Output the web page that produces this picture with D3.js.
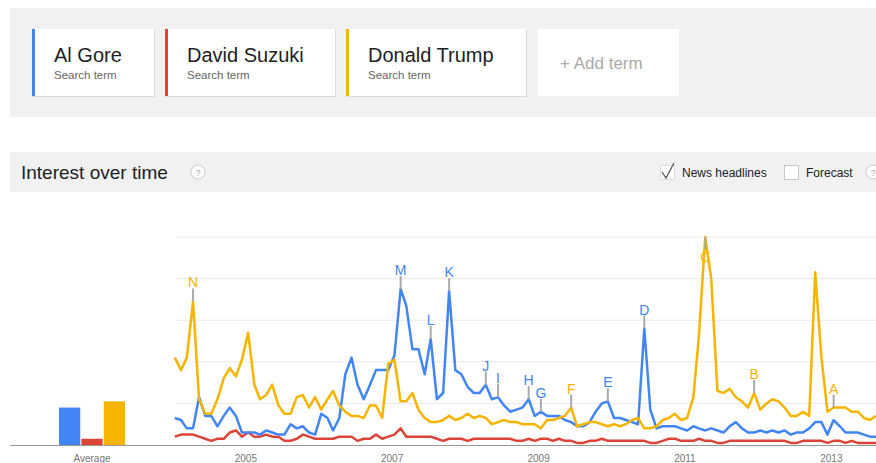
<!DOCTYPE html>
<html>
<head>
<meta charset="utf-8">
<script src="https://cdn.jsdelivr.net/npm/d3@7"></script>
<style>
  body { margin: 0; background: #fff; font-family: Arial, "Liberation Sans", sans-serif; }
  svg { display: block; }
</style>
</head>
<body>
<svg width="876" height="463"></svg>
<script>
// ---- data (monthly, Jan 2004 .. Aug 2013)
const terms = ['Al Gore', 'David Suzuki', 'Donald Trump'];
const termColors = ['#4285f4', '#db4437', '#f4b400'];
const averages = [18, 3, 21];

const alGore = [13, 12, 8, 8, 23, 14, 14, 9, 14, 18, 14, 6, 6, 6, 5, 7, 6, 5, 5, 10, 8, 9, 6, 5,
  15, 13, 7, 13, 34, 42, 29, 22, 29, 36, 36, 36, 43, 75, 67, 46, 46, 34, 51, 22, 25, 74, 36, 34,
  28, 25, 25, 29, 22, 23, 19, 16, 17, 18, 22, 14, 16, 14, 14, 14, 12, 11, 9, 9, 11, 16, 20, 21,
  13, 13, 12, 11, 10, 56, 17, 8, 9, 9, 9, 8, 7, 9, 8, 7, 8, 7, 6, 9, 11, 8, 6, 6,
  7, 6, 7, 6, 7, 5, 6, 6, 8, 11, 11, 5, 12, 9, 6, 6, 6, 5, 4, 4];

const davidSuzuki = [4, 5, 5, 5, 4, 3, 2, 3, 3, 6, 7, 4, 6, 4, 4, 5, 4, 4, 2, 2, 3, 5, 4, 3,
  3, 3, 3, 4, 4, 4, 2, 3, 3, 5, 3, 4, 5, 8, 4, 4, 4, 4, 4, 3, 2, 3, 3, 3,
  2, 3, 3, 3, 3, 3, 3, 3, 2, 2, 3, 2, 3, 3, 2, 3, 2, 2, 1, 1, 2, 2, 3, 2,
  2, 2, 2, 2, 2, 2, 1, 1, 2, 3, 3, 2, 2, 2, 3, 2, 2, 1, 1, 2, 2, 2, 2, 2,
  2, 2, 2, 2, 2, 1, 1, 2, 2, 2, 2, 1, 2, 2, 1, 2, 1, 1, 1, 1];

const donaldTrump = [42, 36, 42, 69, 22, 15, 15, 22, 32, 37, 33, 41, 54, 29, 22, 24, 29, 19, 15, 15, 23, 24, 18, 23,
  17, 22, 26, 19, 16, 14, 14, 13, 19, 19, 13, 39, 41, 21, 21, 25, 17, 13, 11, 11, 12, 14, 12, 13,
  15, 13, 14, 13, 10, 11, 12, 11, 11, 10, 10, 10, 8, 12, 12, 13, 14, 18, 9, 10, 11, 11, 10, 9,
  10, 9, 10, 12, 13, 8, 8, 9, 12, 13, 15, 12, 13, 23, 53, 100, 80, 26, 25, 27, 23, 21, 18, 25,
  17, 20, 22, 21, 18, 14, 14, 16, 14, 83, 42, 16, 18, 18, 18, 16, 16, 13, 12, 14];

const seriesValues = [alGore, davidSuzuki, donaldTrump];
const months = d3.timeMonth.range(new Date(2004, 0, 1), new Date(2013, 8, 1)).map(d => new Date(d.getFullYear(), d.getMonth(), 15));

// news headline markers
const newsLetters = ['N', 'M', 'L', 'K', 'J', 'I', 'H', 'G', 'F', 'E', 'D', 'C', 'B', 'A'];
const newsMonthIdx = [3, 37, 42, 45, 51, 53, 58, 60, 65, 71, 77, 87, 95, 108];
const newsTerm = [2, 0, 0, 0, 0, 0, 0, 0, 2, 0, 0, 2, 2, 2];

const yearTicks = [2005, 2007, 2009, 2011, 2013];
const gridTicks = [20, 40, 60, 80, 100];

const svg = d3.select('svg');
const font = 'Arial, "Liberation Sans", sans-serif';

// ---- top panel with search terms
svg.append('rect').attr('x', 10).attr('y', 8).attr('width', 866).attr('height', 109).attr('fill', '#f1f1f1');

const cards = [
  { x: 32, w: 122 }, { x: 165, w: 170 }, { x: 346, w: 180 }
];
cards.forEach((c, i) => {
  svg.append('rect').attr('x', c.x).attr('y', 30).attr('width', c.w + 1).attr('height', 67).attr('fill', '#dcdcdc');
  svg.append('rect').attr('x', c.x).attr('y', 29).attr('width', c.w).attr('height', 67).attr('fill', '#fff');
  svg.append('rect').attr('x', c.x).attr('y', 29).attr('width', 3).attr('height', 67).attr('fill', termColors[i]);
  svg.append('text').attr('x', c.x + 22).attr('y', 62).attr('font-size', 20).attr('font-family', font)
    .attr('fill', '#222').text(terms[i]);
  svg.append('text').attr('x', c.x + 22).attr('y', 79).attr('font-size', 11.5).attr('font-family', font)
    .attr('fill', '#666').text('Search term');
});
svg.append('rect').attr('x', 538).attr('y', 29).attr('width', 141).attr('height', 67).attr('fill', '#fff');
svg.append('text').attr('x', 560).attr('y', 69).attr('font-size', 17).attr('font-family', font)
  .attr('fill', '#aaa').text('+ Add term');

// ---- "Interest over time" bar
svg.append('rect').attr('x', 10).attr('y', 152).attr('width', 866).attr('height', 40).attr('fill', '#f1f1f1');
svg.append('text').attr('x', 21).attr('y', 179).attr('font-size', 19).attr('font-family', font)
  .attr('fill', '#222').text('Interest over time');

function helpIcon(cx) {
  svg.append('circle').attr('cx', cx).attr('cy', 172).attr('r', 7).attr('fill', '#fff')
    .attr('stroke', '#ccc').attr('stroke-width', 1);
  svg.append('text').attr('x', cx).attr('y', 175.5).attr('text-anchor', 'middle').attr('font-size', 9)
    .attr('font-family', font).attr('fill', '#aaa').text('?');
}
helpIcon(198);
helpIcon(873);

svg.append('rect').attr('x', 660.5).attr('y', 165.5).attr('width', 14).attr('height', 14)
  .attr('fill', '#fff').attr('stroke', '#dcdcdc');
svg.append('path').attr('d', 'M662,172 L666,178 L674,163').attr('fill', 'none')
  .attr('stroke', '#555').attr('stroke-width', 1.3);
svg.append('text').attr('x', 682).attr('y', 177).attr('font-size', 12).attr('font-family', font)
  .attr('fill', '#222').text('News headlines');
svg.append('rect').attr('x', 784.5).attr('y', 165.5).attr('width', 14).attr('height', 14)
  .attr('fill', '#fff').attr('stroke', '#c8c8c8');
svg.append('text').attr('x', 806).attr('y', 177).attr('font-size', 12).attr('font-family', font)
  .attr('fill', '#222').text('Forecast');

// ---- scales
const x = d3.scaleTime().domain([new Date(2004, 0, 1), new Date(2014, 0, 1)]).range([172, 904]);
const y = d3.scaleLinear().domain([0, 100]).range([445, 237]);

// gridlines
svg.append('g').selectAll('line').data(gridTicks).enter().append('line')
  .attr('x1', 176).attr('x2', 876)
  .attr('y1', d => y(d)).attr('y2', d => y(d))
  .attr('stroke', '#ebebeb').attr('stroke-width', 1);

// baseline
svg.append('line').attr('x1', 10).attr('x2', 876).attr('y1', y(0) + 0.5).attr('y2', y(0) + 0.5)
  .attr('stroke', '#999').attr('stroke-width', 1);

// ---- average bars
const xAvg = d3.scaleBand().domain(terms).range([59, 125]).paddingInner(0.05);
svg.append('g').selectAll('rect').data(averages).enter().append('rect')
  .attr('x', (d, i) => xAvg(terms[i]))
  .attr('y', d => y(d))
  .attr('width', xAvg.bandwidth())
  .attr('height', d => y(0) - y(d))
  .attr('fill', (d, i) => termColors[i]);
svg.append('text').attr('x', 92).attr('y', 462).attr('text-anchor', 'middle').attr('font-size', 10)
  .attr('font-family', font).attr('fill', '#777').text('Average');

// ---- x axis
const xAxis = svg.append('g').attr('transform', `translate(0, ${y(0)})`)
  .call(d3.axisBottom(x)
    .tickValues(yearTicks.map(yr => new Date(yr, 0, 1)))
    .tickFormat(d3.timeFormat('%Y'))
    .tickSize(0).tickPadding(10));
xAxis.select('.domain').remove();
xAxis.selectAll('text').attr('font-size', 10).attr('font-family', font).attr('fill', '#777');

// ---- lines
svg.append('clipPath').attr('id', 'plot-clip').append('rect')
  .attr('x', 172).attr('y', 220).attr('width', 704).attr('height', 230);

const line = d3.line()
  .x((d, i) => x(months[i]))
  .y(d => y(d));

const plot = svg.append('g').attr('clip-path', 'url(#plot-clip)');
// draw order: red, blue, yellow
[1, 0, 2].forEach(k => {
  plot.append('path')
    .datum(seriesValues[k])
    .attr('d', line)
    .attr('fill', 'none')
    .attr('stroke', termColors[k])
    .attr('stroke-width', 2.5)
    .attr('stroke-linejoin', 'round');
});

// ---- news markers
newsLetters.forEach((letter, j) => {
  const idx = newsMonthIdx[j];
  const k = newsTerm[j];
  const px = x(months[idx]);
  const py = y(seriesValues[k][idx]);
  let stemTop = py - 13;
  let textY = py - 14;
  if (py - 30 < 237) { // no room above: letter sits below the peak
    stemTop = py + 12;
    textY = py + 25;
  }
  svg.append('line').attr('x1', px).attr('x2', px).attr('y1', py).attr('y2', stemTop)
    .attr('stroke', '#aaa').attr('stroke-width', 2);
  svg.append('text').attr('x', px).attr('y', textY).attr('text-anchor', 'middle')
    .attr('font-size', 14).attr('font-family', font).attr('fill', termColors[k])
    .text(letter);
});
</script>
</body>
</html>
